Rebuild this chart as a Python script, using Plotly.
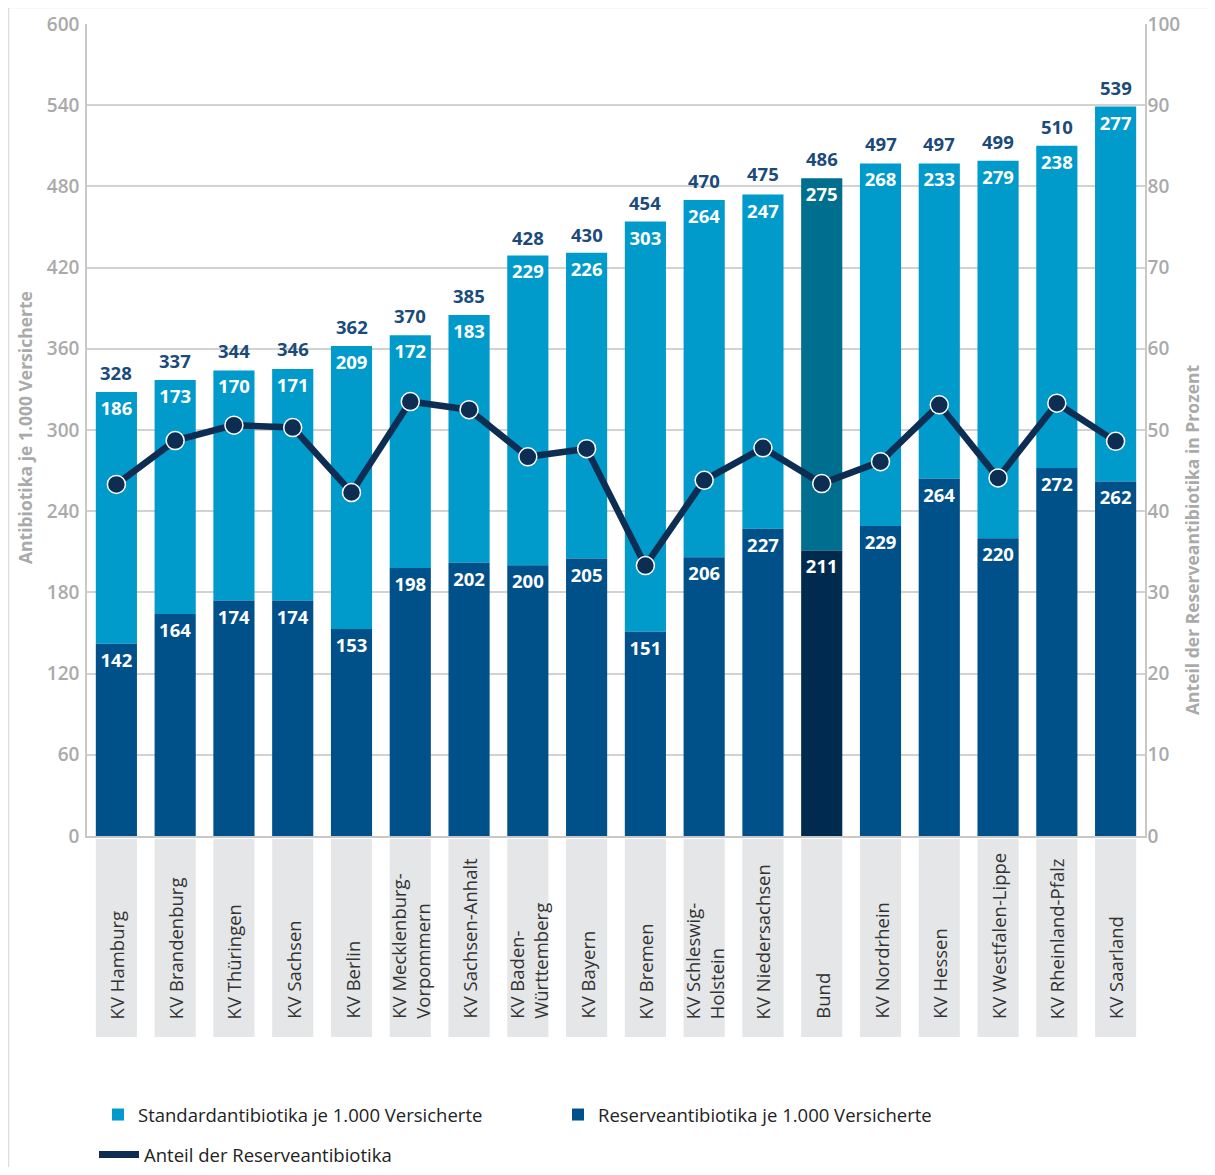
import plotly.graph_objects as go

categories = ["KV Hamburg", "KV Brandenburg", "KV Thüringen", "KV Sachsen", "KV Berlin",
              "KV Mecklenburg-<br>Vorpommern", "KV Sachsen-Anhalt", "KV Baden-<br>Württemberg",
              "KV Bayern", "KV Bremen", "KV Schleswig-<br>Holstein", "KV Niedersachsen", "Bund",
              "KV Nordrhein", "KV Hessen", "KV Westfalen-Lippe", "KV Rheinland-Pfalz", "KV Saarland"]
reserve = [142, 164, 174, 174, 153, 198, 202, 200, 205, 151, 206, 227, 211, 229, 264, 220, 272, 262]
standard = [186, 173, 170, 171, 209, 172, 183, 229, 226, 303, 264, 247, 275, 268, 233, 279, 238, 277]
totals = [328, 337, 344, 346, 362, 370, 385, 428, 430, 454, 470, 475, 486, 497, 497, 499, 510, 539]
share = [43.3, 48.7, 50.6, 50.3, 42.3, 53.5, 52.5, 46.7, 47.7, 33.3, 43.8, 47.8, 43.4, 46.1, 53.1, 44.1, 53.3, 48.6]
left_ticks = [0, 60, 120, 180, 240, 300, 360, 420, 480, 540, 600]
right_ticks = [0, 10, 20, 30, 40, 50, 60, 70, 80, 90, 100]

LIGHT = "#009ACB"
DARK = "#00508A"
BUND_LIGHT = "#006E8E"
BUND_DARK = "#002A4E"
LINE = "#0D2D52"
GREY = "#AAAAAA"

# page -> plot mapping (plot area: x 87..1145, y 24..836 on page)
PL, PW, PB, PH = 87, 1058, 836, 812
def px(x):
    return (x - PL) / PW
def py(y):
    return (PB - y) / PH

xs = list(range(len(categories)))
bund = categories.index("Bund")
light_cols = [BUND_LIGHT if i == bund else LIGHT for i in xs]
dark_cols = [BUND_DARK if i == bund else DARK for i in xs]

FONT = "Open Sans"
fig = go.Figure()
fig.add_trace(go.Bar(x=xs, y=standard, base=reserve, name="Standardantibiotika je 1.000 Versicherte",
                     marker=dict(color=light_cols, line=dict(width=0)),
                     text=[str(v) for v in standard], textposition="inside", insidetextanchor="end",
                     textfont=dict(color="white", size=18.5, family=FONT, weight="bold"),
                     width=0.7, legend="legend"))
fig.add_trace(go.Bar(x=xs, y=reserve, name="Reserveantibiotika je 1.000 Versicherte",
                     marker=dict(color=dark_cols, line=dict(width=0)),
                     text=[str(v) for v in reserve], textposition="inside", insidetextanchor="end",
                     textfont=dict(color="white", size=18.5, family=FONT, weight="bold"),
                     width=0.7, legend="legend"))
fig.add_trace(go.Scatter(x=xs, y=share, yaxis="y2", mode="lines+markers",
                         name="Anteil der Reserveantibiotika", showlegend=False,
                         line=dict(color=LINE, width=6.5),
                         marker=dict(color=LINE, size=18, line=dict(color="white", width=1.5))))
# legend entry for the line (no data)
fig.add_trace(go.Scatter(x=[None], y=[None], yaxis="y2", mode="lines",
                         name="Anteil der Reserveantibiotika", legend="legend2",
                         line=dict(color=LINE, width=7)))

shapes = []
for i in xs:
    shapes.append(dict(type="rect", xref="x", yref="paper", x0=i - 0.35, x1=i + 0.35,
                       y0=py(1037), y1=py(839),
                       fillcolor="#E4E6E8", line=dict(width=0), layer="below"))
# outer frame
shapes.append(dict(type="line", xref="paper", yref="paper", x0=px(8.5), x1=px(1215),
                   y0=py(7.5), y1=py(7.5), line=dict(color="#DDDDDD", width=1.5)))
shapes.append(dict(type="line", xref="paper", yref="paper", x0=px(8.5), x1=px(8.5),
                   y0=py(7.5), y1=py(1167), line=dict(color="#DDDDDD", width=1.5)))

annotations = []
for i, t in enumerate(totals):
    annotations.append(dict(x=i, xref="x", y=t, yref="y", text=str(t), showarrow=False,
                            xanchor="center", yanchor="bottom", yshift=5,
                            font=dict(family=FONT, size=18.5, color="#1B4B7A", weight="bold")))
for i, c in enumerate(categories):
    annotations.append(dict(x=i, xref="x", y=py(1021), yref="paper", text=c,
                            textangle=-90, xanchor="center", yanchor="bottom", align="left",
                            showarrow=False, font=dict(family=FONT, size=18.5, color="#333333")))
annotations.append(dict(x=px(25), xref="paper", y=py(428), yref="paper",
                        text="Antibiotika je 1.000 Versicherte", textangle=-90, showarrow=False,
                        xanchor="center", yanchor="middle",
                        font=dict(family=FONT, size=17.5, color=GREY, weight="bold")))
annotations.append(dict(x=px(1192), xref="paper", y=py(540), yref="paper",
                        text="Anteil der Reserveantibiotika in Prozent", textangle=-90, showarrow=False,
                        xanchor="center", yanchor="middle",
                        font=dict(family=FONT, size=17.5, color=GREY, weight="bold")))

W, H = 1199, 1159  # page has an 8px body margin
fig.update_layout(
    width=W, height=H,
    margin=dict(l=PL - 8, r=W - (PL - 8 + PW), t=(PB - PH) - 8, b=H - (PB - 8), autoexpand=False),
    paper_bgcolor="white", plot_bgcolor="white",
    barmode="overlay", bargap=0.3,
    font=dict(family=FONT),
    xaxis=dict(range=[-0.5, len(categories) - 0.5], showticklabels=False, showgrid=False,
               showline=True, linecolor="#C8C8C8", linewidth=1.5, ticks="", zeroline=False,
               automargin=False),
    yaxis=dict(range=[0, 600], tickvals=left_ticks, showgrid=True, gridcolor="#D2D2D2", gridwidth=1.5,
               showline=True, linecolor="#C8C8C8", linewidth=1.5, mirror=True, zeroline=False,
               tickfont=dict(family=FONT, size=19, color=GREY, weight=600), ticks="",
               ticklabelstandoff=2, automargin=False),
    yaxis2=dict(range=[0, 100], tickvals=right_ticks, overlaying="y", side="right", showgrid=False,
                showline=True, linecolor="#C8C8C8", linewidth=1.5, zeroline=False,
                tickfont=dict(family=FONT, size=19, color=GREY, weight=600), ticks="",
                ticklabelstandoff=-3, automargin=False),
    legend=dict(orientation="h", x=px(98), xanchor="left", y=py(1096),
                yanchor="top", entrywidth=415, font=dict(family=FONT, size=18.5, color="#222222"),
                traceorder="normal", itemwidth=30, bgcolor="rgba(0,0,0,0)"),
    legend2=dict(orientation="h", x=px(94), xanchor="left", y=py(1136),
                 yanchor="top", font=dict(family=FONT, size=18.5, color="#222222"),
                 itemwidth=40, bgcolor="rgba(0,0,0,0)"),
    shapes=shapes, annotations=annotations, showlegend=True,
)

fig.write_html("out.html")
